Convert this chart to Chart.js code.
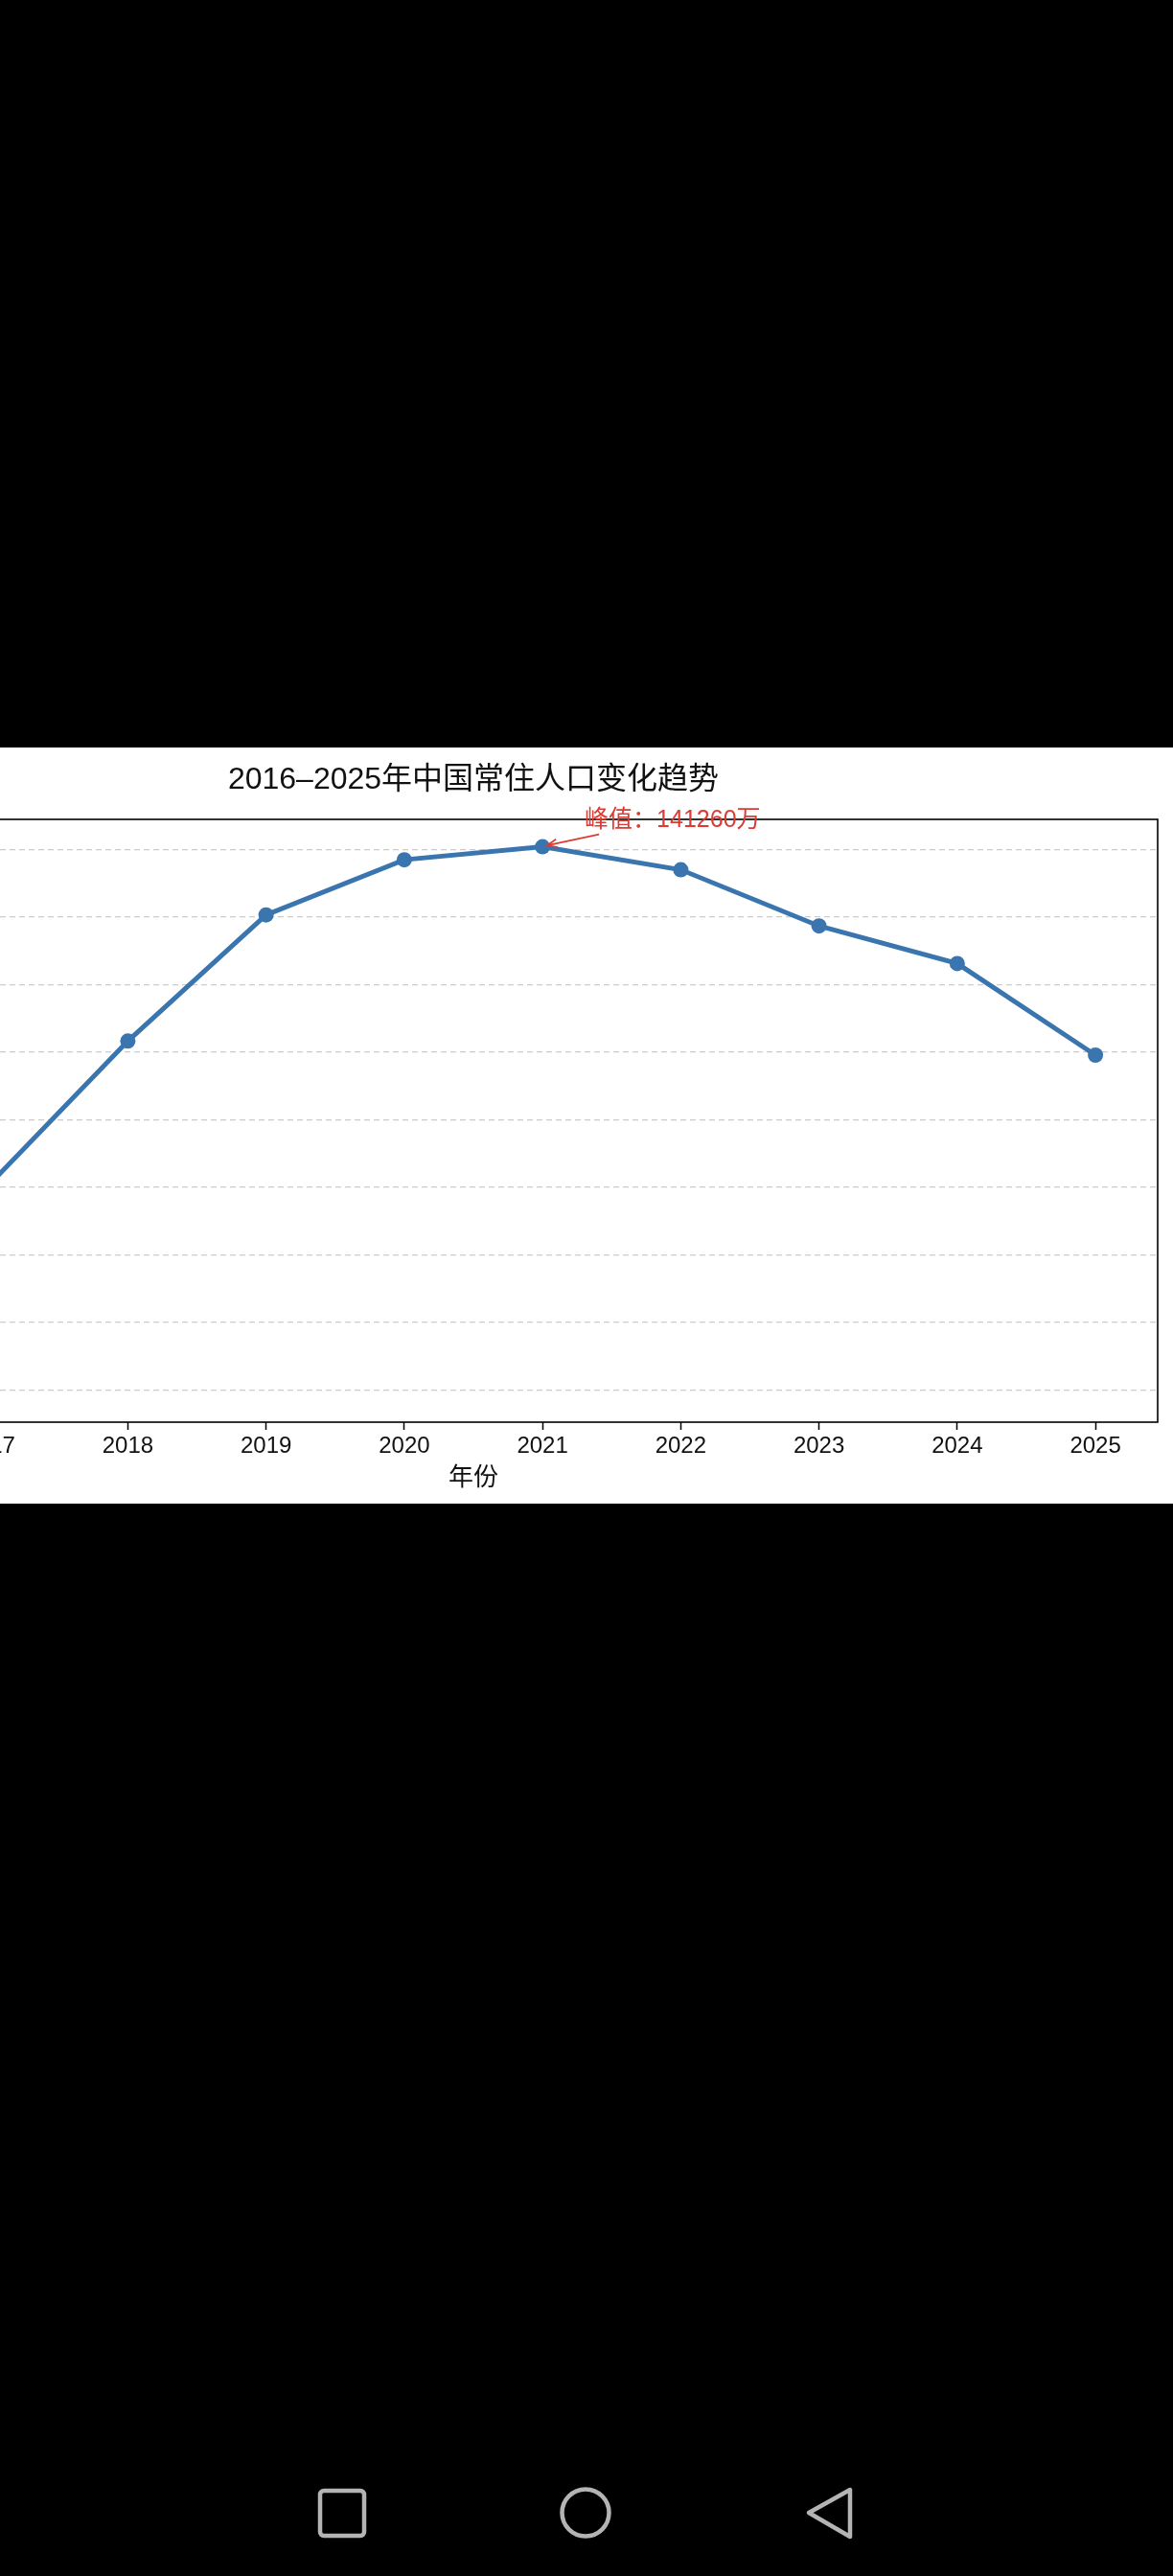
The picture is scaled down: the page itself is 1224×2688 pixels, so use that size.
<!DOCTYPE html>
<html lang="zh-CN">
<head>
<meta charset="utf-8">
<title>2016–2025年中国常住人口变化趋势</title>
<script src="https://cdn.jsdelivr.net/npm/chart.js@4.4.1/dist/chart.umd.min.js"></script>
<style>
  html, body { margin: 0; padding: 0; background: #000; }
  body { width: 1224px; height: 2688px; position: relative; overflow: hidden; }
  #panel { position: absolute; left: 0; top: 780px; width: 1224px; height: 789px; background: #fff; overflow: hidden; }
  #grafico { position: absolute; left: -380px; top: 0; }
  #navbar { position: absolute; left: 0; top: 2560px; }
</style>
</head>
<body>
<div id="panel"><canvas id="grafico" width="1748" height="789"></canvas></div>

<!-- barra de navegación del teléfono -->
<svg id="navbar" width="1224" height="128" viewBox="0 0 1224 128">
  <g fill="none" stroke="#b4b4b4" stroke-width="4.5" stroke-linejoin="round">
    <rect x="334" y="39" width="46" height="47" rx="4"/>
    <circle cx="611" cy="62" r="24.5"/>
    <path d="M844 62 L887 38 L887 87 Z"/>
  </g>
</svg>

<script>
// Datos del gráfico
var anios = [2016, 2017, 2018, 2019, 2020, 2021, 2022, 2023, 2024, 2025];
var poblacion = [139232, 140011, 140541, 141008, 141212, 141260, 141175, 140967, 140828, 140489];
var ticksY = [139250, 139500, 139750, 140000, 140250, 140500, 140750, 141000, 141250];

var titulo = '2016–2025年中国常住人口变化趋势';
var tituloX = '年份';
var fuente = "'Liberation Sans', 'Noto Sans CJK SC', sans-serif";
var azul = '#3a75af';
var rojo = '#dc3b34';

// márgenes automáticos como en matplotlib (5%)
var minY = Math.min.apply(null, poblacion);
var maxY = Math.max.apply(null, poblacion);
var margenY = (maxY - minY) * 0.05;
var margenX = (anios[anios.length - 1] - anios[0]) * 0.05;

// Marco del área y anotación del pico
var marcoYAnotacion = {
  id: 'marcoYAnotacion',
  afterDatasetsDraw: function (chart) {
    var ctx = chart.ctx;
    var a = chart.chartArea;
    var x = chart.scales.x;
    var y = chart.scales.y;
    ctx.save();
    ctx.strokeStyle = '#000';
    ctx.lineWidth = 1.6;
    ctx.strokeRect(a.left, a.top, a.right - a.left, a.bottom - a.top);

    var i = poblacion.indexOf(maxY);
    var px = x.getPixelForValue(anios[i]);
    var py = y.getPixelForValue(poblacion[i]);

    // flecha
    var x0 = px + 59, y0 = py - 13;
    var x1 = px + 5, y1 = py - 1.5;
    ctx.strokeStyle = rojo;
    ctx.lineWidth = 1.7;
    ctx.beginPath();
    ctx.moveTo(x0, y0);
    ctx.lineTo(x1, y1);
    var ang = Math.atan2(y0 - y1, x0 - x1);
    ctx.moveTo(x1 + 11 * Math.cos(ang + 0.4), y1 + 11 * Math.sin(ang + 0.4));
    ctx.lineTo(x1, y1);
    ctx.lineTo(x1 + 11 * Math.cos(ang - 0.4), y1 + 11 * Math.sin(ang - 0.4));
    ctx.stroke();

    // texto
    ctx.fillStyle = rojo;
    ctx.font = '25px ' + fuente;
    ctx.textAlign = 'left';
    ctx.textBaseline = 'alphabetic';
    ctx.fillText('峰值：' + maxY + '万', px + 44, py - 21);
    ctx.restore();
  }
};

var ctx = document.getElementById('grafico').getContext('2d');

new Chart(ctx, {
  type: 'line',
  data: {
    datasets: [{
      label: '常住人口',
      data: anios.map(function (a, i) { return { x: a, y: poblacion[i] }; }),
      borderColor: azul,
      backgroundColor: azul,
      borderWidth: 5,
      pointRadius: 8,
      pointBorderWidth: 0,
      pointBackgroundColor: azul,
      tension: 0,
      clip: false
    }]
  },
  options: {
    responsive: false,
    devicePixelRatio: 1,
    animation: false,
    layout: { padding: { left: 160, right: 160, top: 0, bottom: 0 } },
    plugins: {
      legend: { display: false },
      tooltip: { enabled: false },
      title: {
        display: true,
        text: titulo,
        color: '#111',
        font: { family: fuente, size: 32, weight: 'normal' },
        padding: { top: 15, bottom: 21.6 }
      }
    },
    scales: {
      x: {
        type: 'linear',
        min: anios[0] - margenX,
        max: anios[anios.length - 1] + margenX,
        afterBuildTicks: function (scale) {
          scale.ticks = anios.map(function (v) { return { value: v }; });
        },
        ticks: {
          color: '#111',
          font: { family: fuente, size: 24 },
          padding: 3,
          maxRotation: 0,
          callback: function (v) { return String(v); }
        },
        grid: {
          display: true,
          drawOnChartArea: false,
          drawTicks: true,
          tickLength: 8,
          tickColor: '#000',
          tickWidth: 1.5
        },
        border: { display: false },
        title: {
          display: true,
          text: tituloX,
          color: '#111',
          font: { family: fuente, size: 26, lineHeight: 1.1 },
          padding: { top: 1.9, bottom: 11.7 }
        }
      },
      y: {
        min: minY - margenY,
        max: maxY + margenY,
        afterBuildTicks: function (scale) {
          scale.ticks = ticksY.map(function (v) { return { value: v }; });
        },
        afterFit: function (scale) { scale.width = 0; },
        ticks: {
          color: '#111',
          font: { family: fuente, size: 24 },
          callback: function (v) { return String(v); }
        },
        grid: {
          color: '#cccccc',
          lineWidth: 1.2,
          tickLength: 8,
          tickColor: '#000',
          tickBorderDash: []
        },
        border: { display: false, dash: [6, 4] }
      }
    }
  },
  plugins: [marcoYAnotacion]
});
</script>
</body>
</html>
